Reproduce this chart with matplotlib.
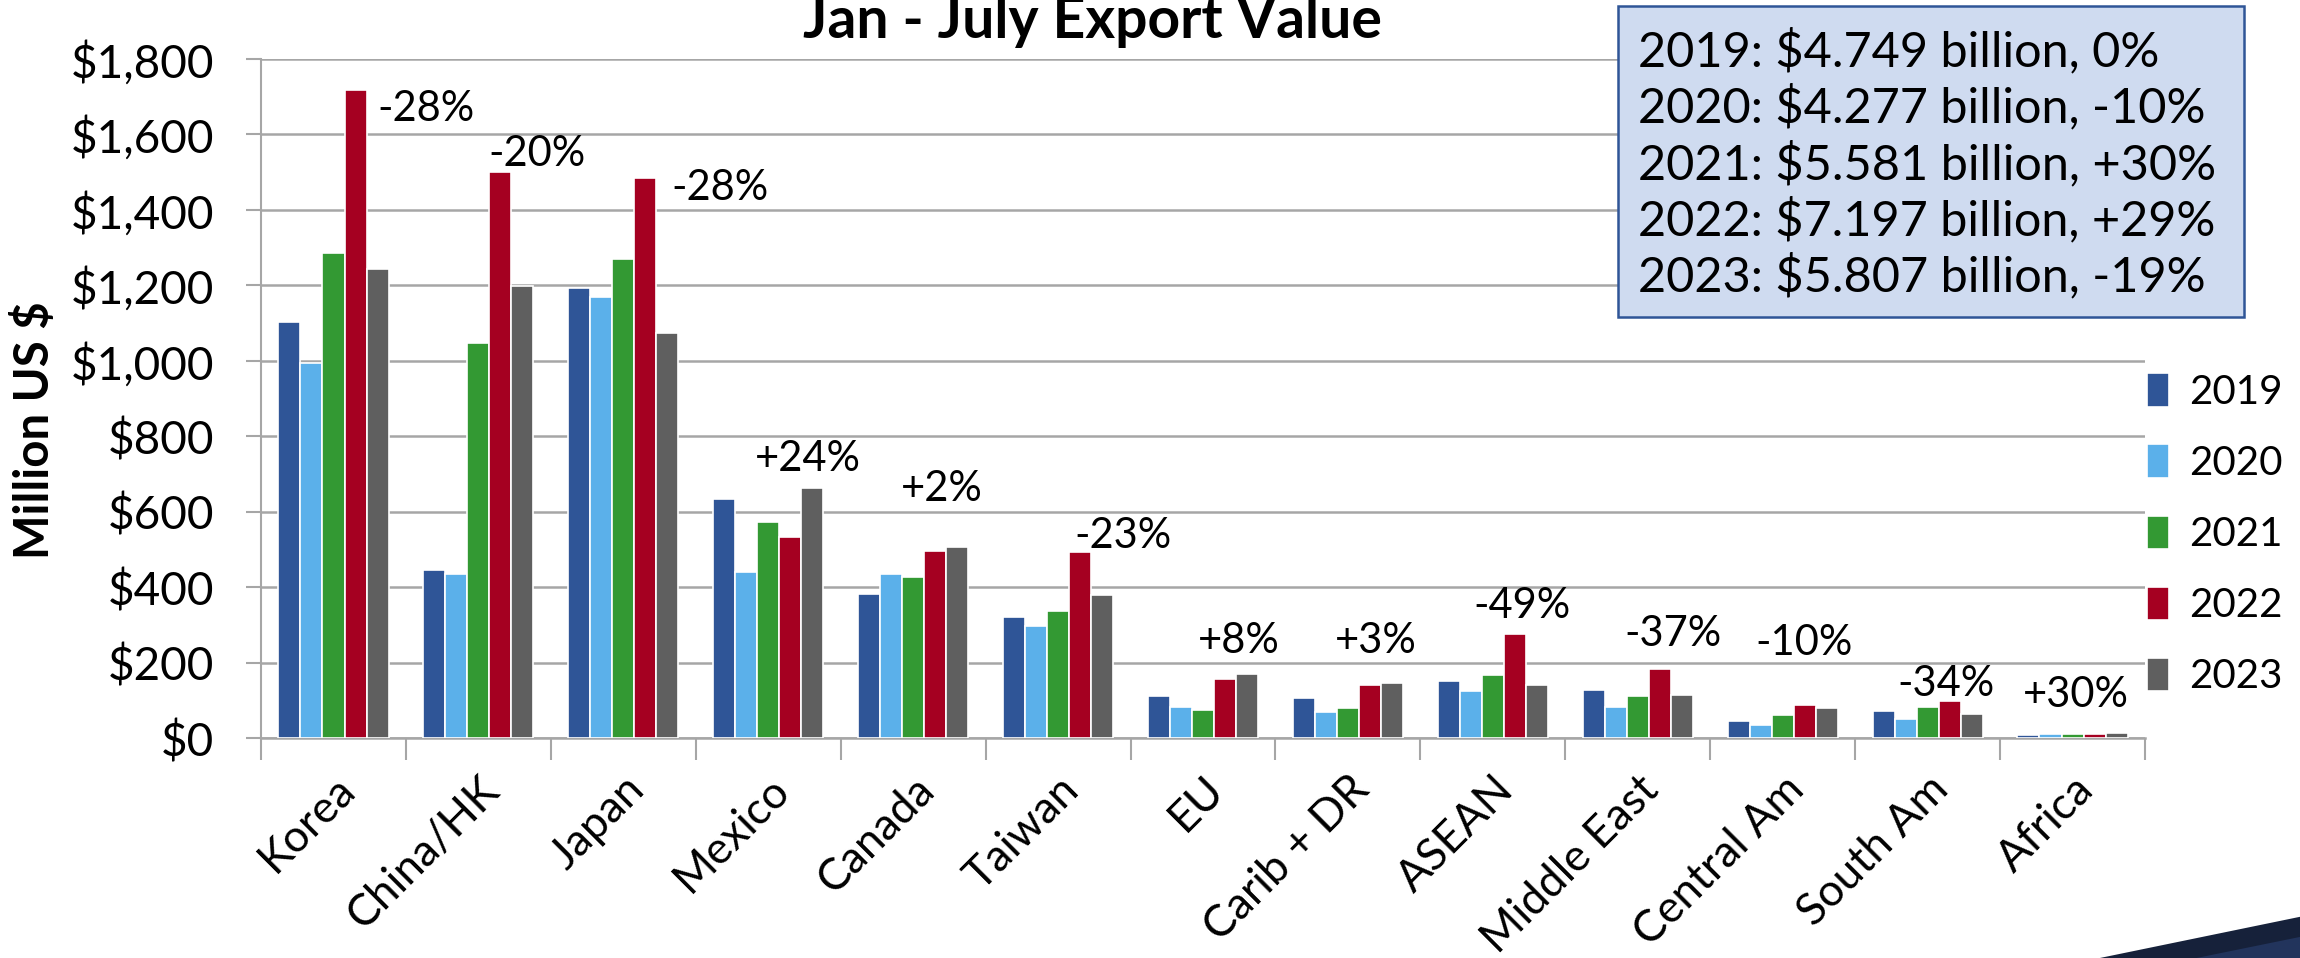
"""Jan - July export value by destination, 2019-2023 (grouped bars)"""

import matplotlib
matplotlib.use("Agg")
import matplotlib.pyplot as plt
import numpy as np
from matplotlib.patches import Polygon, Rectangle

# 数据（百万美元）
regions = ["Korea", "China/HK", "Japan", "Mexico", "Canada", "Taiwan", "EU",
           "Carib + DR", "ASEAN", "Middle East", "Central Am", "South Am", "Africa"]
years = ["2019", "2020", "2021", "2022", "2023"]

v2019 = [1102, 446, 1194, 634, 382, 320, 112, 107, 151, 127, 44, 73, 7]
v2020 = [995, 436, 1169, 440, 434, 298, 81, 68, 126, 82, 35, 51, 11]
v2021 = [1285, 1048, 1270, 572, 426, 338, 75, 80, 166, 111, 62, 81, 11]
v2022 = [1717, 1501, 1484, 534, 497, 494, 156, 141, 276, 182, 87, 97, 11]
v2023 = [1243, 1197, 1074, 662, 506, 379, 170, 146, 141, 113, 79, 63, 14]

changes = ["-28%", "-20%", "-28%", "+24%", "+2%", "-23%", "+8%",
           "+3%", "-49%", "-37%", "-10%", "-34%", "+30%"]

summary = [
    "2019: $4.749 billion, 0%",
    "2020: $4.277 billion, -10%",
    "2021: $5.581 billion, +30%",
    "2022: $7.197 billion, +29%",
    "2023: $5.807 billion, -19%",
]

colors = ["#2F5597", "#5BB0EA", "#339933", "#A50021", "#5F5F5F"]

# label placement (x offset from category, y in data units, alignment)
label_dx = [0.30, 0.07, 0.33, 0.27, 0.20, 0.45, 0.25, 0.19, 0.20, 0.24, 0.15, 0.13, 0.02]
label_y = [1668, 1547, 1458, 740, 660, 535, 257, 257, 350, 276, 253, 144, 113]
label_ha = ["left", "left", "left", "center", "center", "center", "center",
            "center", "center", "center", "center", "center", "center"]

plt.rcParams['font.family'] = ['Lato', 'DejaVu Sans']

fig = plt.figure(figsize=(23, 9.58), dpi=100)
ax = fig.add_axes([0.1135, 0.2296, 0.8191, 0.7088])

x = np.arange(len(regions))
w = 0.152
series = [v2019, v2020, v2021, v2022, v2023]
for k, (vals, yr, c) in enumerate(zip(series, years, colors)):
    ax.bar(x + (k - 2) * w, vals, width=w, color=c, edgecolor="white",
           linewidth=1.2, label=yr, zorder=3)

for i, txt in enumerate(changes):
    ax.text(i + label_dx[i], label_y[i], txt, ha=label_ha[i], va="center",
            fontsize=30, zorder=4)

ax.set_xlim(-0.5, len(regions) - 0.5)
ax.set_ylim(0, 1800)
ax.set_yticks(np.arange(0, 1801, 200))
ax.set_yticklabels([f"${v:,}" for v in range(0, 1801, 200)], fontsize=33)
ax.yaxis.grid(True, color="#A6A6A6", linewidth=1.8, zorder=0)
ax.tick_params(axis="y", length=11, width=1.5, color="#A6A6A6", pad=23)

ax.set_xticks(x)
ax.set_xticklabels(regions, rotation=45, ha="right", rotation_mode="anchor",
                   fontsize=32)
ax.tick_params(axis="x", length=0, pad=22)
ax.set_xticks(np.arange(-0.5, len(regions)), minor=True)
ax.tick_params(axis="x", which="minor", length=16, width=1.5, color="#A6A6A6")

for s in ["top", "right"]:
    ax.spines[s].set_visible(False)
ax.spines["left"].set_color("#A6A6A6")
ax.spines["left"].set_linewidth(1.5)
ax.spines["bottom"].set_color("#A6A6A6")
ax.spines["bottom"].set_linewidth(1.8)

fig.text(0.0152, 0.5507, "Million US $", rotation=90, ha="center", va="center",
         fontsize=34, fontweight="bold")

ax.legend(loc="center left", bbox_to_anchor=(0.982, 0.30), frameon=False,
          fontsize=29, handlelength=0.55, handleheight=0.9,
          handletextpad=0.5, labelspacing=0.83)

fig.text(0.475, 0.960, "Jan - July Export Value", ha="center", va="baseline",
         fontsize=41, fontweight="bold")

# summary box
fig.add_artist(Rectangle((0.7035, 0.669), 0.2722, 0.3247, transform=fig.transFigure,
                         facecolor="#CFDBF0", edgecolor="#2F5597", linewidth=1.8,
                         zorder=5))
fig.text(0.712, 0.829, "\n".join(summary), ha="left", va="center",
         fontsize=35, linespacing=1.25, zorder=6)

# decorative swoosh bottom-right
fig.add_artist(Polygon([(0.913, 0.0), (1.0, 0.043), (1.0, 0.0)],
                       closed=True, transform=fig.transFigure,
                       facecolor="#16213A", edgecolor="none"))
fig.add_artist(Polygon([(0.955, 0.0), (1.0, 0.022), (1.0, 0.0)],
                       closed=True, transform=fig.transFigure,
                       facecolor="#22345C", edgecolor="none"))

fig.savefig("out.png", dpi=100)
